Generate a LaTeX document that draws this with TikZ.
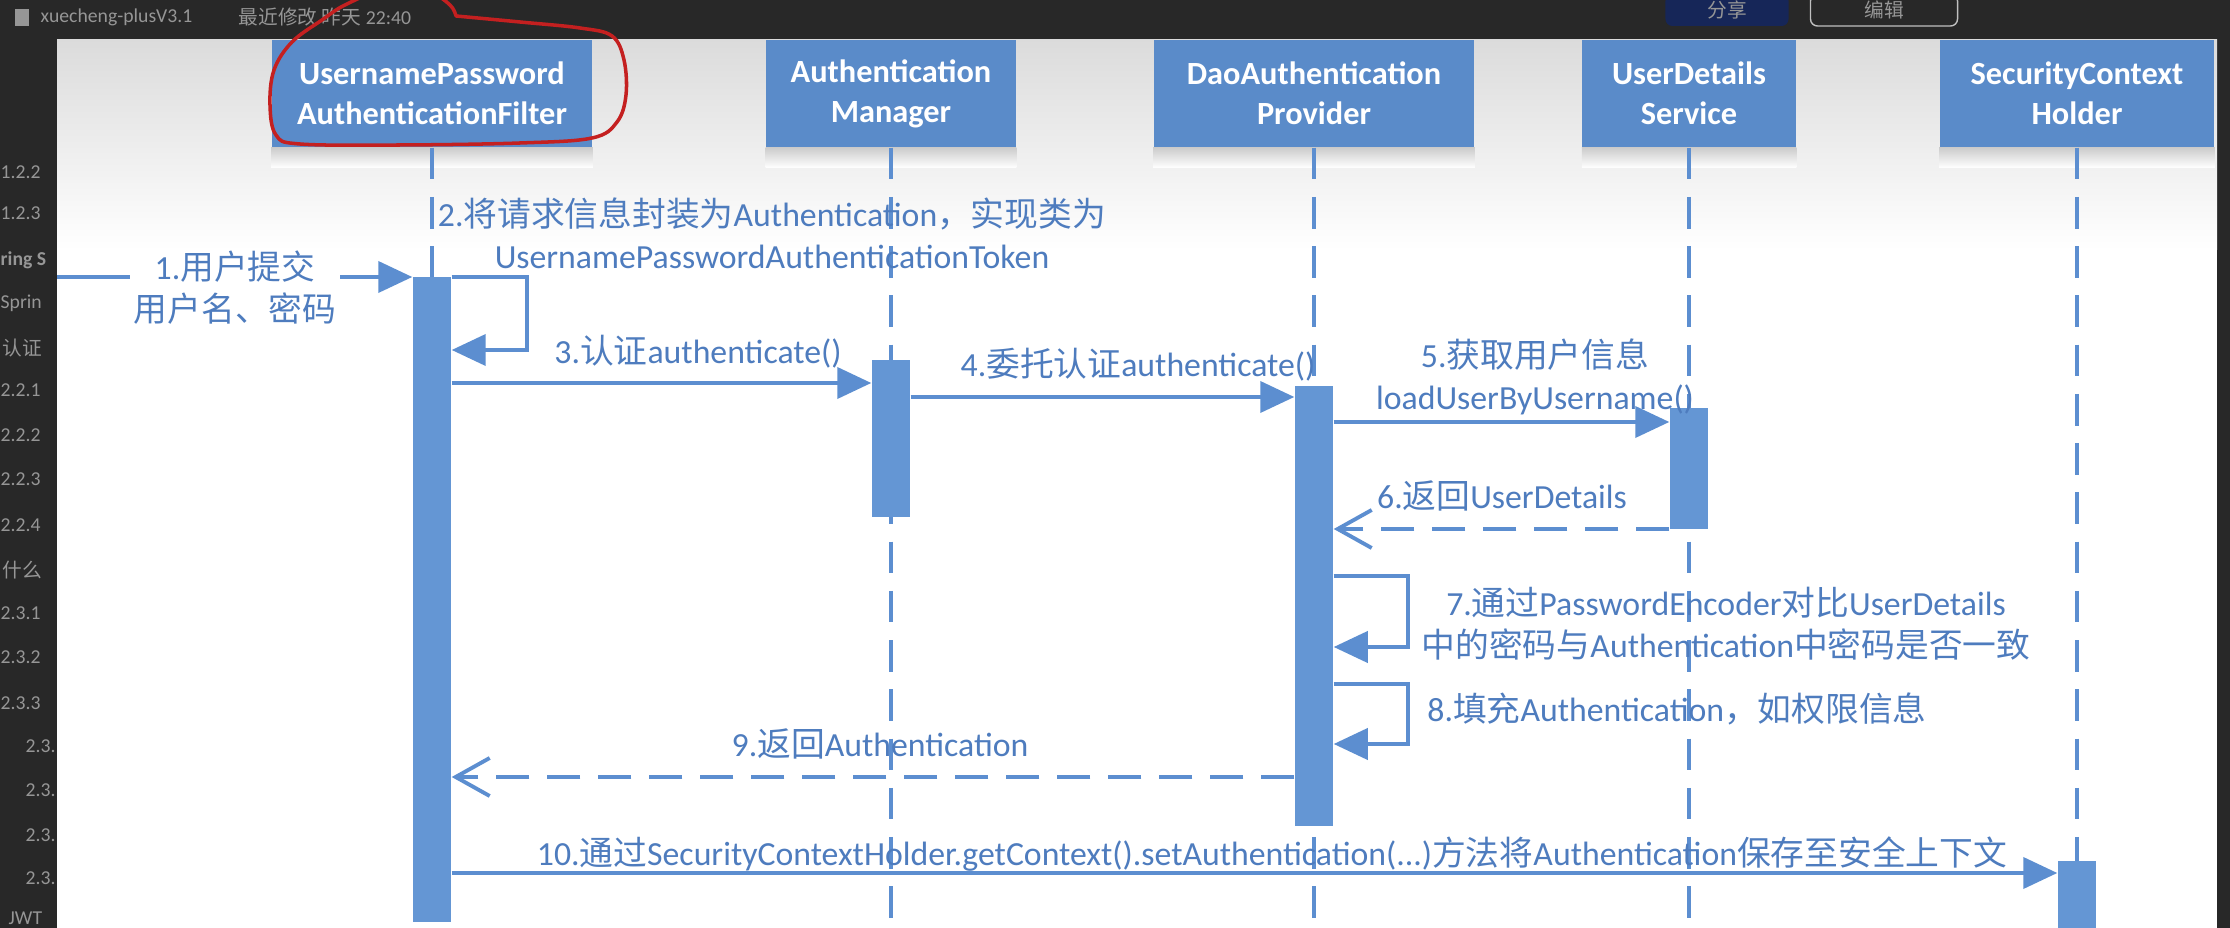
\documentclass[tikz,border=0pt]{standalone}
\usepackage{fontspec}
\setmainfont{Carlito}
\newfontfamily\zhfont{Noto Sans CJK SC}
\newcommand{\zh}[1]{{\zhfont #1}}
\usetikzlibrary{arrows.meta,positioning}
\definecolor{uibg}{RGB}{40,40,40}
\definecolor{uigrey}{RGB}{150,150,150}
\definecolor{uinavy}{RGB}{22,38,88}
\definecolor{seqbox}{RGB}{90,139,201}
\definecolor{seqbar}{RGB}{100,150,212}
\definecolor{seqline}{RGB}{92,142,208}
\definecolor{seqtext}{RGB}{78,124,190}
\definecolor{penred}{RGB}{196,32,32}
\tikzset{
  actor/.style={rectangle, fill=seqbox, text=white, align=center,
    font=\bfseries\fontsize{9.2}{11.4}\selectfont, minimum height=1.07cm, inner sep=0pt},
  actbar/.style={rectangle, fill=seqbar, minimum width=0.38cm, inner sep=0pt},
  lifeline/.style={draw=seqline, line width=0.9pt, dash pattern=on 9pt off 5pt},
  msg/.style={draw=seqline, line width=1.1pt, -{Triangle[length=0.34cm, width=0.31cm]}},
  reply/.style={draw=seqline, line width=1.1pt, dash pattern=on 9.5pt off 5pt,
    -{Straight Barb[length=0.34cm, width=0.38cm]}},
  msglabel/.style={text=seqtext, align=center, inner sep=1pt,
    font=\fontsize{9.6}{12}\selectfont},
  uitext/.style={text=uigrey, font=\fontsize{5.6}{6}\selectfont, inner sep=0pt},
  uibtn/.style={rounded corners=2pt, text=uigrey, font=\fontsize{5.6}{6}\selectfont,
    minimum height=0.32cm, inner sep=0pt},
  scribble/.style={draw=penred, line width=1pt, line cap=round},
}
\begin{document}
\begin{tikzpicture}[x=0.01cm, y=-0.01cm]
\useasboundingbox (0,0) rectangle (2230,928);
\fill[uibg] (0,0) rectangle (2230,928);

% editor chrome around the picture
\fill[uigrey] (15,9) rectangle (29,26);
\node[uitext, anchor=west] (proj) at (40,17) {xuecheng-plusV3.1};
\node[uitext, anchor=west, right=0.45cm of proj] (edited) {\zh{最近修改} \zh{昨天} 22:40};
\node[uibtn, fill=uinavy, minimum width=1.23cm] (share) at (1727,10) {\zh{分享}};
\node[uibtn, draw=uigrey!60, minimum width=1.47cm] (editbtn) at (1884,10) {\zh{编辑}};
\foreach \y/\t in {172/1.2.2,213/1.2.3,303/Sprin,390/2.2.1,435/2.2.2,479/2.2.3,
    525/2.2.4,613/2.3.1,657/2.3.2,703/2.3.3}
  \node[uitext, anchor=west] (side\y) at (0,\y) {\t};
\node[uitext, anchor=west] (side260) at (0,260) {\textbf{ring S}};
\node[uitext, anchor=west] (side348) at (2,348) {\zh{认证}};
\node[uitext, anchor=west] (side570) at (2,570) {\zh{什么}};
\foreach \y in {746,790,835,878}
  \node[uitext, anchor=west] (side\y) at (25,\y) {2.3.};
\node[uitext, anchor=west] (side918) at (8,918) {JWT};

% canvas
\fill[white] (57,40) rectangle (2217,928);
\shade[top color=black!14, bottom color=white] (57,40) rectangle (2217,250);

\node[actor, minimum width=3.20cm] (filter) at (432,93.5) {UsernamePassword\\AuthenticationFilter};
\node[actor, minimum width=2.49cm] (manager) at (891,93.5) {Authentication\\Manager};
\node[actor, minimum width=3.20cm] (provider) at (1314,93.5) {DaoAuthentication\\Provider};
\node[actor, minimum width=2.13cm] (uds) at (1689,93.5) {UserDetails\\Service};
\node[actor, minimum width=2.74cm] (holder) at (2077,93.5) {SecurityContext\\Holder};

\coordinate (bottom) at (0,928);
\foreach \a in {filter,manager,provider,uds,holder}{
  \shade[top color=black!20, bottom color=white] (\a.south west) rectangle ([yshift=-0.2cm]\a.south east);
  \draw[lifeline] (\a.south) -- (\a.south |- bottom);
}

\node[actbar, minimum height=6.45cm] (fbar) at (432,599.5) {};
\node[actbar, minimum height=1.57cm] (mbar) at (891,438.5) {};
\node[actbar, minimum height=4.40cm] (pbar) at (1314,606) {};
\node[actbar, minimum height=1.21cm] (ubar) at (1689,468.5) {};
\node[actbar, minimum height=0.70cm] (hbar) at (2077,896) {};

\coordinate (entry) at (57,277);
\foreach \n/\y in {m3/383,m4/397,m5/422,m6/529,m7/576,m8/684,m9/777,m10/873}
  \coordinate (\n) at (0,\y);

\draw[msg] (entry) -- (fbar.west |- entry);
\node[msglabel, fill=white] (l1) at (235,288) {1.\zh{用户提交}\\\zh{用户名、密码}};
\draw[msg] (fbar.east |- entry) -- ++(75,0) -- ++(0,73) -- ++(-75,0);
\node[msglabel] (l2) at (772,233) {2.\zh{将请求信息封装为}Authentication\zh{，实现类为}\\UsernamePasswordAuthenticationToken};
\draw[msg] (fbar.east |- m3) -- (mbar.west |- m3);
\node[msglabel] (l3) at (698,352) {3.\zh{认证}authenticate()};
\draw[msg] (mbar.east |- m4) -- (pbar.west |- m4);
\node[msglabel] (l4) at (1138,365) {4.\zh{委托认证}authenticate()};
\draw[msg] (pbar.east |- m5) -- (ubar.west |- m5);
\node[msglabel] (l5) at (1535,377) {5.\zh{获取用户信息}\\loadUserByUsername()};
\draw[reply] (ubar.west |- m6) -- (pbar.east |- m6);
\node[msglabel] (l6) at (1502,496) {6.\zh{返回}UserDetails};
\draw[msg] (pbar.east |- m7) -- ++(74,0) -- ++(0,71) -- ++(-74,0);
\node[msglabel] (l7) at (1726,624) {7.\zh{通过}PasswordEncoder\zh{对比}UserDetails\\\zh{中的密码与}Authentication\zh{中密码是否一致}};
\draw[msg] (pbar.east |- m8) -- ++(74,0) -- ++(0,60) -- ++(-74,0);
\node[msglabel] (l8) at (1677,709) {8.\zh{填充}Authentication\zh{，如权限信息}};
\draw[reply] (pbar.west |- m9) -- (fbar.east |- m9);
\node[msglabel] (l9) at (880,744) {9.\zh{返回}Authentication};
\draw[msg] (fbar.east |- m10) -- (hbar.west |- m10);
\node[msglabel] (l10) at (1272,854) {10.\zh{通过}SecurityContextHolder.getContext().setAuthentication(...)\zh{方法将}Authentication\zh{保存至安全上下文}};

% red pen mark round the filter
\draw[scribble] plot[smooth, tension=0.6] coordinates {(456,16) (520,22) (580,28) (612,36)
  (624,60) (626,95) (617,122) (592,138) (520,143) (400,145) (300,144) (276,135) (270,105)
  (274,70) (292,42) (322,20) (345,5) (380,-8) (430,-6) (450,5) (456,16)};
\end{tikzpicture}
\end{document}
